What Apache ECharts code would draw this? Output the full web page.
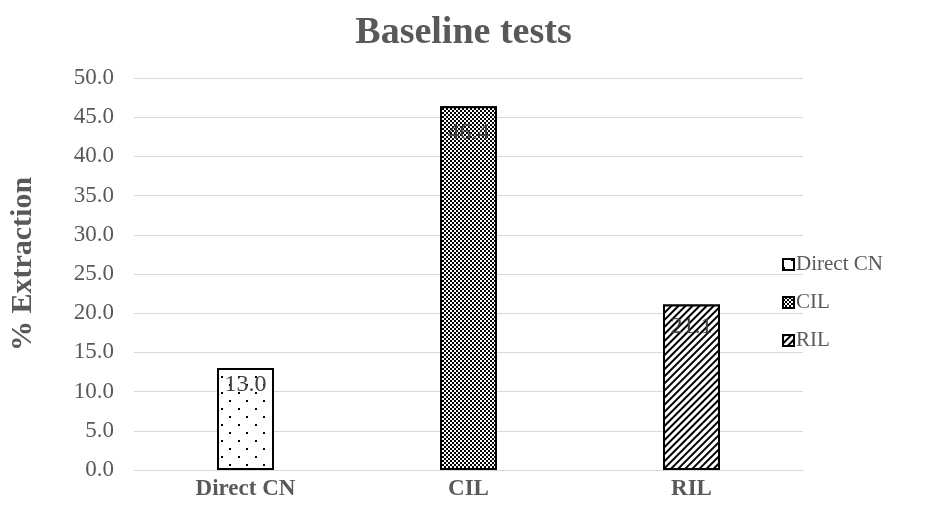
<!DOCTYPE html>
<html>
<head>
<meta charset="utf-8">
<script src="https://cdn.jsdelivr.net/npm/echarts@6/dist/echarts.min.js"></script>
<style>
  html, body { margin: 0; padding: 0; background: #fff; }
  #chart { width: 927px; height: 506px; }
</style>
</head>
<body>
<div id="chart"></div>
<script>
// Extraction results for the three baseline leach methods
const categories = ['Direct CN', 'CIL', 'RIL'];
const directCN = [13.0, null, null];
const cil = [null, 46.4, null];
const ril = [null, null, 21.1];
const yTicks = { min: 0, max: 50, step: 5 };

const serif = '"Liberation Serif", "Times New Roman", serif';

// Fill patterns: sparse dots, fine checkerboard, diagonal hatch
const dotDecal = {
  symbol: 'rect', symbolSize: 1, color: '#000', backgroundColor: '#fff',
  dashArrayX: [[2, 15], [0, 8, 2, 7]], dashArrayY: [2, 6], rotation: 0
};
const checkDecal = {
  symbol: 'rect', symbolSize: 1, color: '#000', backgroundColor: '#fff',
  dashArrayX: [[2, 2], [0, 2, 2, 0]], dashArrayY: [2, 0], rotation: 0
};
const hatchDecal = {
  symbol: 'rect', symbolSize: 1, color: '#000', backgroundColor: '#fff',
  dashArrayX: [[1, 0]], dashArrayY: [2, 3], rotation: -Math.PI / 4
};

function barSeries(name, data, decal, labelDistance) {
  return {
    name: name,
    type: 'bar',
    data: data,
    barWidth: 57,
    barGap: '-100%',
    itemStyle: { color: '#fff', borderColor: '#000', borderWidth: 2, decal: decal },
    label: {
      show: true, position: 'insideTop', distance: labelDistance,
      fontFamily: serif, fontSize: 24, color: '#404040',
      formatter: p => p.value == null ? '' : Number(p.value).toFixed(1)
    }
  };
}

const chart = echarts.init(document.getElementById('chart'));
chart.setOption({
  animation: false,
  backgroundColor: '#fff',
  title: {
    text: 'Baseline tests', left: 'center', top: 9,
    textStyle: { fontFamily: serif, fontSize: 38, fontWeight: 'bold', color: '#595959' }
  },
  legend: {
    orient: 'vertical', left: 777, top: 249, itemGap: 17,
    itemWidth: 11, itemHeight: 11, icon: 'rect',
    textStyle: { fontFamily: serif, fontSize: 21, color: '#595959', padding: [0, 0, 0, -3] },
    data: categories
  },
  grid: { left: 133, right: 124, top: 78, bottom: 36 },
  xAxis: {
    type: 'category', data: categories,
    axisLine: { lineStyle: { color: '#d9d9d9', width: 1 } },
    axisTick: { show: false },
    axisLabel: { fontFamily: serif, fontSize: 23, fontWeight: 'bold', color: '#595959', margin: 8 }
  },
  yAxis: {
    type: 'value', min: yTicks.min, max: yTicks.max, interval: yTicks.step,
    name: '% Extraction', nameLocation: 'middle', nameGap: 96,
    nameTextStyle: { fontFamily: serif, fontSize: 30, fontWeight: 'bold', color: '#595959',
      padding: [0, 0, 0, 20] },
    axisLine: { show: false }, axisTick: { show: false },
    axisLabel: { fontFamily: serif, fontSize: 23, color: '#595959', margin: 20,
      formatter: v => v.toFixed(1) },
    splitLine: { lineStyle: { color: '#d9d9d9', width: 1 } }
  },
  series: [
    barSeries('Direct CN', directCN, dotDecal, 5),
    barSeries('CIL', cil, checkDecal, 14),
    barSeries('RIL', ril, hatchDecal, 10)
  ]
});
</script>
</body>
</html>
